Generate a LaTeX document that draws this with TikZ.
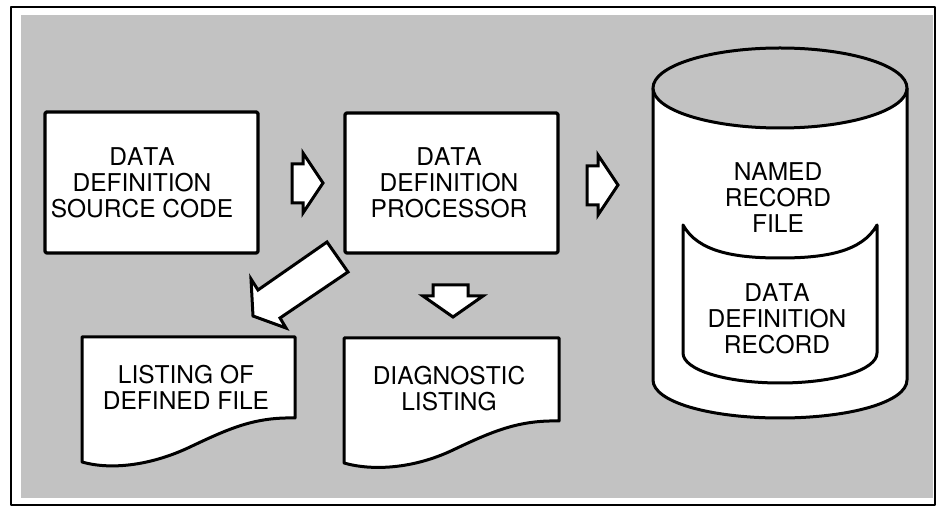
\documentclass[tikz,border=0pt]{standalone}
\usepackage{fontspec}
\setmainfont{TeX Gyre Heros}[Kerning=Off]
\definecolor{screen}{gray}{0.76}
\begin{document}
\begin{tikzpicture}[x=1pt,y=-1pt,
  line width=3pt, line join=round,
  procbox/.style={draw=black, fill=white, line width=3.2pt, rounded corners=1.5pt,
    minimum width=213pt, minimum height=141pt, inner sep=0pt},
  lbl/.style={font=\fontsize{24.5}{26}\selectfont, align=center, inner sep=0pt},
  blockarrow/.style={draw=black, fill=white, line width=3pt, line join=miter, miter limit=4},
  docshape/.style={draw=black, fill=white, line width=3pt, line join=round}]

\useasboundingbox (0,0) rectangle (938,510);

% halftone panel and frame
\fill[screen] (21,15) rectangle (933,498);
\draw[line width=2pt] (11,7) rectangle (935,505);

% process boxes
\node[procbox] (src) at (151.5,182.5) {};
\node[lbl] (srctxt) at ([xshift=-9.5pt]src.center) {DATA\\DEFINITION\\SOURCE CODE};
\node[procbox, minimum height=140pt] (proc) at (451.5,183) {};
\node[lbl] (proctxt) at ([xshift=-2.5pt]proc.center) {DATA\\DEFINITION\\PROCESSOR};

% disk file (cylinder)
\coordinate (disk) at (780,250);
\fill[white] (653,88) -- (653,380) .. controls (653,402) and (710,418) .. (780,418)
  .. controls (850,418) and (907,402) .. (907,380) -- (907,88) -- cycle;
\draw (653,88) -- (653,380) .. controls (653,402) and (710,418) .. (780,418)
  .. controls (850,418) and (907,402) .. (907,380) -- (907,88);
\draw[fill=screen] (780,88) ellipse [x radius=127, y radius=40];
\node[lbl] (filetxt) at (778,198) {NAMED\\RECORD\\FILE};

% record inside the file
\draw[fill=white] (683,225) .. controls (698,252) and (735,258) .. (780,258)
  .. controls (825,258) and (862,252) .. (877,225) -- (877,353)
  .. controls (877,370) and (834,383) .. (780,383)
  .. controls (726,383) and (683,370) .. (683,353) -- cycle;
\node[lbl] (rectxt) at (777,319) {DATA\\DEFINITION\\RECORD};

% printed listings
\coordinate (lst1) at (188,380);
\draw[docshape] (82,337) -- (295,337) -- (295,418)
  .. controls (255,417) and (230,428) .. (190,447)
  .. controls (150,466) and (110,470) .. (82,462) -- cycle;
\node[lbl] (lst1txt) at (186,387) {LISTING OF\\DEFINED FILE};

\coordinate (lst2) at (451,380);
\draw[docshape] (344,338) -- (559,338) -- (559,421)
  .. controls (519,420) and (493,431) .. (453,450)
  .. controls (413,469) and (372,471) .. (344,463) -- cycle;
\node[lbl] (lst2txt) at (449,389) {DIAGNOSTIC\\LISTING};

% flow arrows
\draw[blockarrow] (292,164) -- (303,164) -- (303,153) -- (323,183) -- (303,213)
  -- (303,203) -- (292,203) -- cycle;
\draw[blockarrow] (587,166) -- (598,166) -- (598,155) -- (618,185) -- (598,215)
  -- (598,205) -- (587,205) -- cycle;
\draw[blockarrow] (433,285) -- (468,285) -- (468,296) -- (483,296) -- (453,317)
  -- (423,296) -- (433,296) -- cycle;
\draw[blockarrow] (327,242) -- (348,272) -- (280,318) -- (286,328) -- (253,316)
  -- (251,279) -- (258,290) -- cycle;
\end{tikzpicture}
\end{document}
